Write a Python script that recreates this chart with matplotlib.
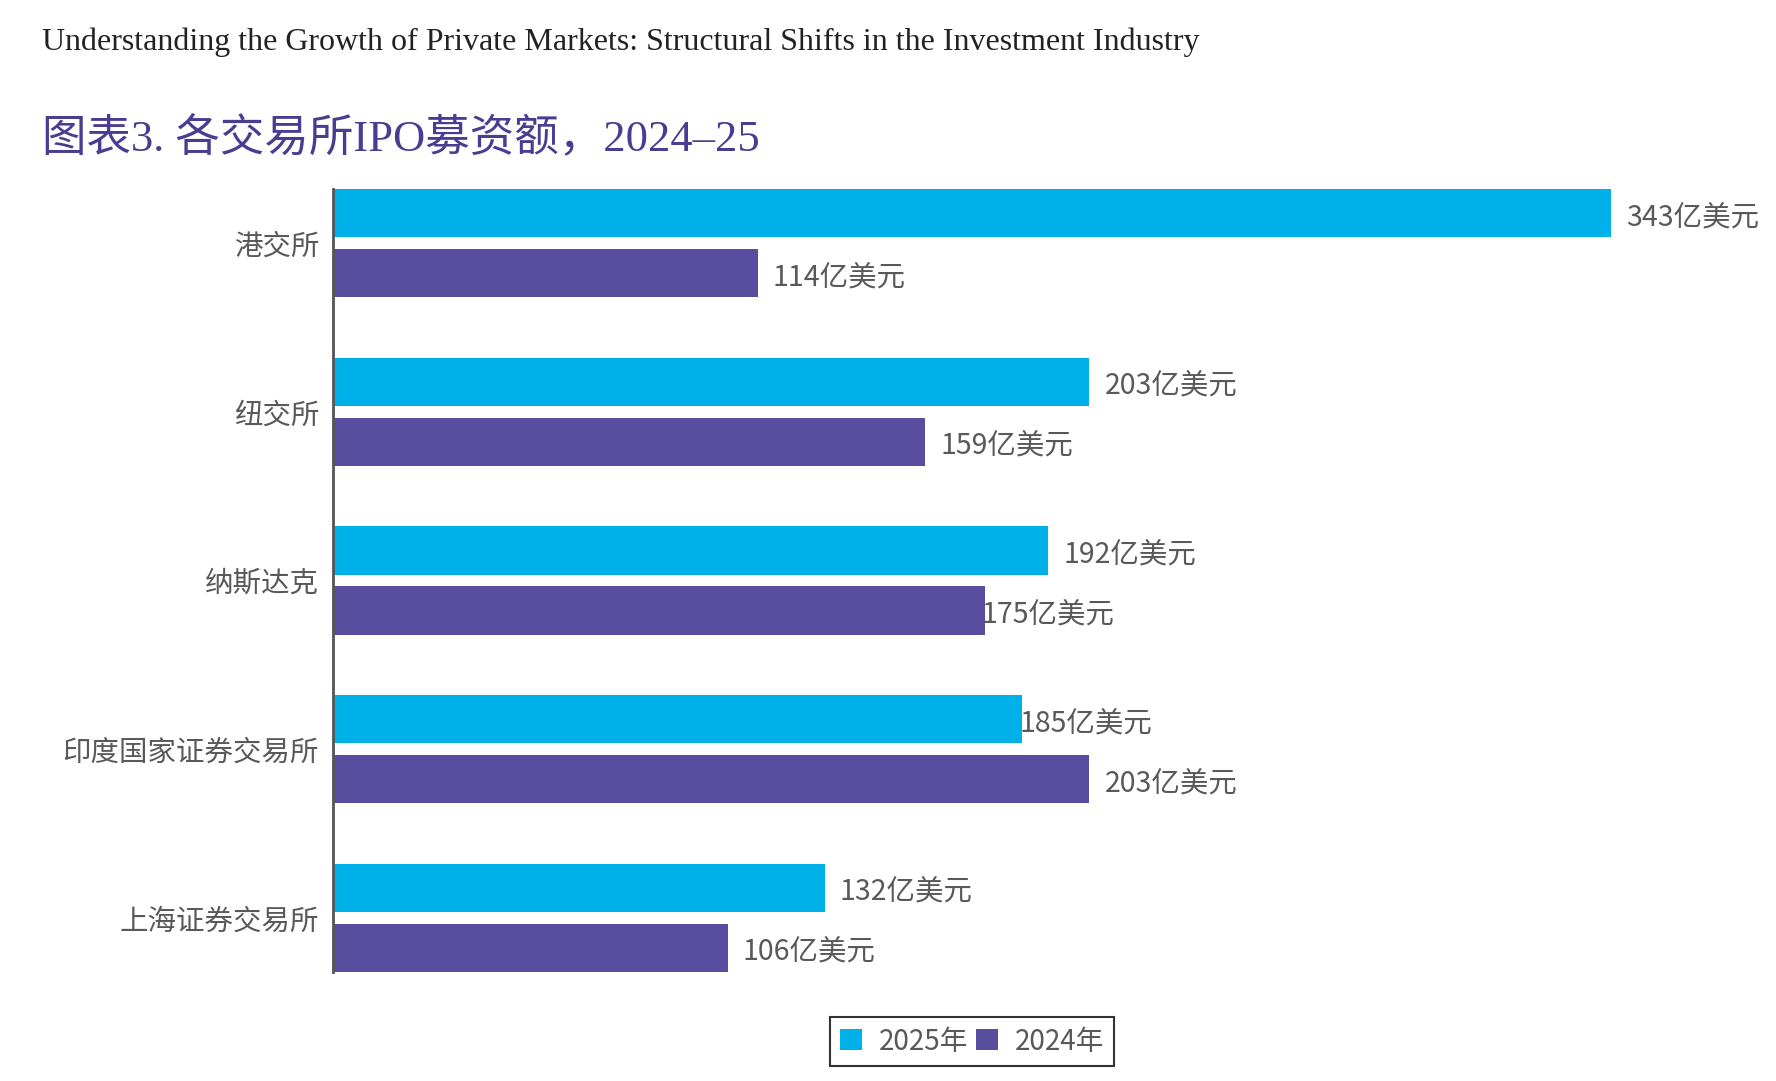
import numpy as np
import matplotlib
matplotlib.use("Agg")
import matplotlib.pyplot as plt
from matplotlib.patches import Patch

plt.rcParams['font.family'] = ['Noto Sans CJK SC', 'DejaVu Sans']

exchanges = ['港交所', '纽交所', '纳斯达克', '印度国家证券交易所', '上海证券交易所']
ipo_2025 = [343, 203, 192, 185, 132]
ipo_2024 = [114, 159, 175, 203, 106]
series_names = ['2025年', '2024年']
unit = '亿美元'

c25 = '#00B0E8'
c24 = '#584D9E'
grey = '#595959'

fig = plt.figure(figsize=(17.76, 10.81), dpi=100)
W, H = 1776, 1081
# axes box in pixel terms: left edge at the axis line, top/bottom at the bar extents
ax = fig.add_axes([333 / W, 1 - 972 / H, (W - 333) / W, (972 - 189) / H])

y = np.arange(len(exchanges))
off = 0.178
bh = 0.285
ax.barh(y - off, ipo_2025, height=bh, color=c25)
ax.barh(y + off, ipo_2024, height=bh, color=c24)

ax.set_xlim(0, (W - 333) / 3.726)
ax.set_ylim(len(exchanges) - 1 + off + bh / 2, -off - bh / 2)

# small nudges so labels sit where the original put them
nudge_25 = [15, 15, 15, -3, 15]
nudge_24 = [15, 15, -4, 15, 15]
for i in range(len(exchanges)):
    ax.annotate(f'{ipo_2025[i]}{unit}', (ipo_2025[i], y[i] - off), xytext=(nudge_25[i], -4),
                textcoords='offset pixels', va='center', ha='left', fontsize=20.5,
                color=grey)
    ax.annotate(f'{ipo_2024[i]}{unit}', (ipo_2024[i], y[i] + off), xytext=(nudge_24[i], -4),
                textcoords='offset pixels', va='center', ha='left', fontsize=20.5,
                color=grey)

ax.set_yticks(y)
ax.set_yticklabels(exchanges, fontsize=20.5, color=grey)
for t in ax.get_yticklabels():
    t.set_y(t.get_position()[1])
ax.tick_params(axis='y', length=0, pad=10)
ax.set_xticks([])
for s in ['top', 'right', 'bottom']:
    ax.spines[s].set_visible(False)
ax.spines['left'].set_color('#555555')
ax.spines['left'].set_linewidth(2)

fig.text(42 / W, 1 - 50 / H, 'Understanding the Growth of Private Markets: Structural Shifts in the Investment Industry',
         family=['Liberation Serif'], fontsize=23, color='#222222', va='baseline', ha='left')
fig.text(42 / W, 1 - 139 / H, '图表3. 各交易所IPO募资额，2024–25',
         family=['Liberation Serif', 'Noto Sans CJK SC'], fontsize=32, color='#4B3C92',
         va='center', ha='left')

handles = [Patch(facecolor=c25), Patch(facecolor=c24)]
leg = fig.legend(handles, series_names, loc='center', bbox_to_anchor=(972 / W, 1 - 1041.5 / H),
                 ncol=2, fontsize=20, frameon=True, fancybox=False, edgecolor='black',
                 handlelength=0.8, handleheight=0.8, handletextpad=0.6, columnspacing=0.3,
                 borderpad=0.35)
leg.get_frame().set_linewidth(1.5)
for t in leg.get_texts():
    t.set_color(grey)

fig.savefig('out.png', dpi=100)
